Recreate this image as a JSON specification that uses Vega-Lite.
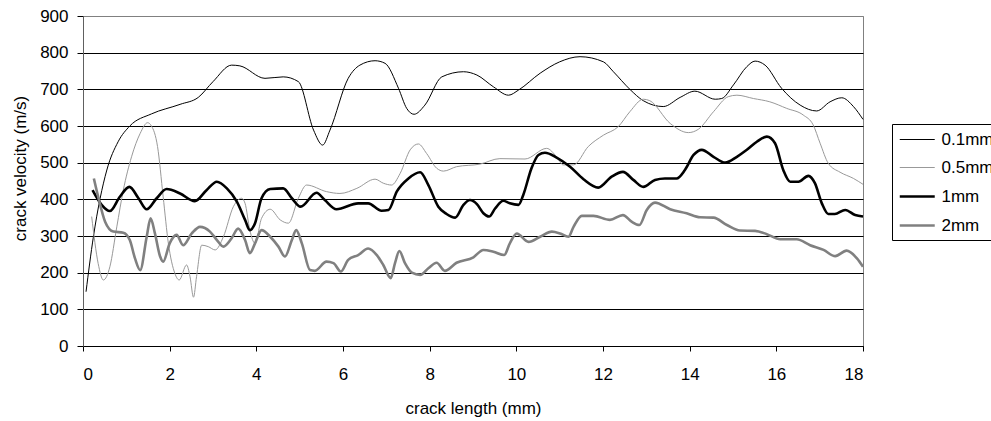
{
  "$schema": "https://vega.github.io/schema/vega-lite/v6.json",
  "width": 780,
  "height": 330,
  "autosize": {"type": "none"},
  "padding": {"left": 83, "top": 16, "right": 128, "bottom": 75},
  "background": "white",
  "config": {
    "font": "Liberation Sans",
    "view": {"stroke": "#808080", "strokeWidth": 1},
    "axis": {"labelFont": "Liberation Sans", "titleFont": "Liberation Sans", "labelColor": "black", "titleColor": "black", "titleFontWeight": "normal"}
  },
  "data": {"values": [
    {"s":"0.1mm","x":0.07,"y":148},{"s":"0.1mm","x":0.24,"y":298},{"s":"0.1mm","x":0.55,"y":480},{"s":"0.1mm","x":0.81,"y":557},{"s":"0.1mm","x":1.08,"y":600},{"s":"0.1mm","x":1.58,"y":633},{"s":"0.1mm","x":2.24,"y":659},{"s":"0.1mm","x":2.66,"y":678},{"s":"0.1mm","x":3.0,"y":721},{"s":"0.1mm","x":3.43,"y":766},{"s":"0.1mm","x":3.62,"y":764},{"s":"0.1mm","x":4.2,"y":730},{"s":"0.1mm","x":4.62,"y":734},{"s":"0.1mm","x":4.97,"y":721},{"s":"0.1mm","x":5.32,"y":589},{"s":"0.1mm","x":5.53,"y":548},{"s":"0.1mm","x":5.7,"y":589},{"s":"0.1mm","x":6.12,"y":730},{"s":"0.1mm","x":6.39,"y":766},{"s":"0.1mm","x":6.74,"y":778},{"s":"0.1mm","x":6.97,"y":771},{"s":"0.1mm","x":7.28,"y":703},{"s":"0.1mm","x":7.47,"y":648},{"s":"0.1mm","x":7.64,"y":632},{"s":"0.1mm","x":7.89,"y":657},{"s":"0.1mm","x":8.28,"y":734},{"s":"0.1mm","x":8.78,"y":748},{"s":"0.1mm","x":9.09,"y":739},{"s":"0.1mm","x":9.47,"y":707},{"s":"0.1mm","x":9.82,"y":684},{"s":"0.1mm","x":10.05,"y":698},{"s":"0.1mm","x":10.55,"y":744},{"s":"0.1mm","x":11.0,"y":775},{"s":"0.1mm","x":11.47,"y":789},{"s":"0.1mm","x":12.01,"y":775},{"s":"0.1mm","x":12.24,"y":748},{"s":"0.1mm","x":12.62,"y":700},{"s":"0.1mm","x":12.93,"y":669},{"s":"0.1mm","x":13.39,"y":653},{"s":"0.1mm","x":13.78,"y":678},{"s":"0.1mm","x":14.12,"y":695},{"s":"0.1mm","x":14.59,"y":673},{"s":"0.1mm","x":14.74,"y":675},{"s":"0.1mm","x":15.01,"y":712},{"s":"0.1mm","x":15.32,"y":762},{"s":"0.1mm","x":15.51,"y":777},{"s":"0.1mm","x":15.74,"y":766},{"s":"0.1mm","x":16.12,"y":703},{"s":"0.1mm","x":16.55,"y":657},{"s":"0.1mm","x":16.93,"y":641},{"s":"0.1mm","x":17.24,"y":666},{"s":"0.1mm","x":17.51,"y":677},{"s":"0.1mm","x":17.78,"y":653},{"s":"0.1mm","x":18.0,"y":618},
    {"s":"0.5mm","x":0.2,"y":353},{"s":"0.5mm","x":0.35,"y":225},{"s":"0.5mm","x":0.47,"y":180},{"s":"0.5mm","x":0.62,"y":216},{"s":"0.5mm","x":0.78,"y":325},{"s":"0.5mm","x":0.93,"y":425},{"s":"0.5mm","x":1.12,"y":516},{"s":"0.5mm","x":1.32,"y":580},{"s":"0.5mm","x":1.49,"y":609},{"s":"0.5mm","x":1.58,"y":600},{"s":"0.5mm","x":1.72,"y":544},{"s":"0.5mm","x":1.85,"y":407},{"s":"0.5mm","x":1.97,"y":280},{"s":"0.5mm","x":2.12,"y":198},{"s":"0.5mm","x":2.22,"y":180},{"s":"0.5mm","x":2.39,"y":221},{"s":"0.5mm","x":2.47,"y":189},{"s":"0.5mm","x":2.55,"y":133},{"s":"0.5mm","x":2.62,"y":189},{"s":"0.5mm","x":2.74,"y":275},{"s":"0.5mm","x":2.89,"y":271},{"s":"0.5mm","x":3.05,"y":262},{"s":"0.5mm","x":3.24,"y":298},{"s":"0.5mm","x":3.47,"y":380},{"s":"0.5mm","x":3.66,"y":403},{"s":"0.5mm","x":3.74,"y":389},{"s":"0.5mm","x":3.85,"y":316},{"s":"0.5mm","x":3.97,"y":280},{"s":"0.5mm","x":4.12,"y":348},{"s":"0.5mm","x":4.32,"y":373},{"s":"0.5mm","x":4.55,"y":344},{"s":"0.5mm","x":4.74,"y":335},{"s":"0.5mm","x":4.97,"y":403},{"s":"0.5mm","x":5.16,"y":439},{"s":"0.5mm","x":5.62,"y":421},{"s":"0.5mm","x":5.93,"y":416},{"s":"0.5mm","x":6.32,"y":430},{"s":"0.5mm","x":6.74,"y":455},{"s":"0.5mm","x":6.93,"y":444},{"s":"0.5mm","x":7.12,"y":439},{"s":"0.5mm","x":7.32,"y":471},{"s":"0.5mm","x":7.55,"y":535},{"s":"0.5mm","x":7.74,"y":551},{"s":"0.5mm","x":7.93,"y":525},{"s":"0.5mm","x":8.16,"y":485},{"s":"0.5mm","x":8.32,"y":477},{"s":"0.5mm","x":8.62,"y":489},{"s":"0.5mm","x":9.16,"y":496},{"s":"0.5mm","x":9.62,"y":511},{"s":"0.5mm","x":10.2,"y":510},{"s":"0.5mm","x":10.7,"y":539},{"s":"0.5mm","x":10.93,"y":516},{"s":"0.5mm","x":11.08,"y":494},{"s":"0.5mm","x":11.32,"y":494},{"s":"0.5mm","x":11.66,"y":544},{"s":"0.5mm","x":12.01,"y":575},{"s":"0.5mm","x":12.35,"y":598},{"s":"0.5mm","x":12.62,"y":639},{"s":"0.5mm","x":12.93,"y":673},{"s":"0.5mm","x":13.08,"y":669},{"s":"0.5mm","x":13.55,"y":607},{"s":"0.5mm","x":13.97,"y":582},{"s":"0.5mm","x":14.2,"y":591},{"s":"0.5mm","x":14.55,"y":639},{"s":"0.5mm","x":14.89,"y":680},{"s":"0.5mm","x":15.09,"y":684},{"s":"0.5mm","x":15.47,"y":675},{"s":"0.5mm","x":15.85,"y":666},{"s":"0.5mm","x":16.24,"y":648},{"s":"0.5mm","x":16.62,"y":630},{"s":"0.5mm","x":16.85,"y":603},{"s":"0.5mm","x":17.01,"y":553},{"s":"0.5mm","x":17.2,"y":498},{"s":"0.5mm","x":17.47,"y":474},{"s":"0.5mm","x":17.78,"y":457},{"s":"0.5mm","x":18.0,"y":441},
    {"s":"1mm","x":0.22,"y":425},{"s":"1mm","x":0.43,"y":385},{"s":"1mm","x":0.62,"y":368},{"s":"1mm","x":0.85,"y":407},{"s":"1mm","x":1.07,"y":434},{"s":"1mm","x":1.28,"y":403},{"s":"1mm","x":1.47,"y":373},{"s":"1mm","x":1.7,"y":403},{"s":"1mm","x":1.93,"y":428},{"s":"1mm","x":2.24,"y":416},{"s":"1mm","x":2.58,"y":395},{"s":"1mm","x":2.85,"y":425},{"s":"1mm","x":3.09,"y":448},{"s":"1mm","x":3.32,"y":430},{"s":"1mm","x":3.55,"y":394},{"s":"1mm","x":3.74,"y":344},{"s":"1mm","x":3.85,"y":316},{"s":"1mm","x":3.97,"y":335},{"s":"1mm","x":4.12,"y":403},{"s":"1mm","x":4.32,"y":428},{"s":"1mm","x":4.62,"y":430},{"s":"1mm","x":4.82,"y":403},{"s":"1mm","x":5.02,"y":380},{"s":"1mm","x":5.39,"y":418},{"s":"1mm","x":5.58,"y":398},{"s":"1mm","x":5.85,"y":373},{"s":"1mm","x":6.35,"y":389},{"s":"1mm","x":6.58,"y":389},{"s":"1mm","x":6.89,"y":369},{"s":"1mm","x":7.05,"y":371},{"s":"1mm","x":7.24,"y":421},{"s":"1mm","x":7.51,"y":457},{"s":"1mm","x":7.78,"y":474},{"s":"1mm","x":7.97,"y":439},{"s":"1mm","x":8.2,"y":380},{"s":"1mm","x":8.39,"y":360},{"s":"1mm","x":8.59,"y":350},{"s":"1mm","x":8.78,"y":385},{"s":"1mm","x":8.93,"y":398},{"s":"1mm","x":9.09,"y":387},{"s":"1mm","x":9.24,"y":362},{"s":"1mm","x":9.37,"y":353},{"s":"1mm","x":9.51,"y":375},{"s":"1mm","x":9.7,"y":396},{"s":"1mm","x":9.85,"y":389},{"s":"1mm","x":10.05,"y":385},{"s":"1mm","x":10.16,"y":412},{"s":"1mm","x":10.35,"y":485},{"s":"1mm","x":10.51,"y":521},{"s":"1mm","x":10.66,"y":527},{"s":"1mm","x":10.93,"y":514},{"s":"1mm","x":11.24,"y":489},{"s":"1mm","x":11.55,"y":455},{"s":"1mm","x":11.89,"y":432},{"s":"1mm","x":12.2,"y":462},{"s":"1mm","x":12.46,"y":475},{"s":"1mm","x":12.7,"y":453},{"s":"1mm","x":12.93,"y":434},{"s":"1mm","x":13.2,"y":453},{"s":"1mm","x":13.43,"y":457},{"s":"1mm","x":13.7,"y":457},{"s":"1mm","x":13.89,"y":480},{"s":"1mm","x":14.09,"y":521},{"s":"1mm","x":14.28,"y":535},{"s":"1mm","x":14.55,"y":516},{"s":"1mm","x":14.82,"y":500},{"s":"1mm","x":15.09,"y":516},{"s":"1mm","x":15.32,"y":535},{"s":"1mm","x":15.55,"y":557},{"s":"1mm","x":15.78,"y":571},{"s":"1mm","x":15.97,"y":553},{"s":"1mm","x":16.16,"y":480},{"s":"1mm","x":16.32,"y":448},{"s":"1mm","x":16.51,"y":448},{"s":"1mm","x":16.74,"y":464},{"s":"1mm","x":16.89,"y":444},{"s":"1mm","x":17.05,"y":389},{"s":"1mm","x":17.2,"y":360},{"s":"1mm","x":17.35,"y":360},{"s":"1mm","x":17.59,"y":371},{"s":"1mm","x":17.82,"y":357},{"s":"1mm","x":18.0,"y":353},
    {"s":"2mm","x":0.25,"y":457},{"s":"2mm","x":0.35,"y":407},{"s":"2mm","x":0.51,"y":339},{"s":"2mm","x":0.7,"y":312},{"s":"2mm","x":0.93,"y":309},{"s":"2mm","x":1.08,"y":289},{"s":"2mm","x":1.2,"y":239},{"s":"2mm","x":1.32,"y":207},{"s":"2mm","x":1.47,"y":298},{"s":"2mm","x":1.56,"y":348},{"s":"2mm","x":1.66,"y":307},{"s":"2mm","x":1.78,"y":244},{"s":"2mm","x":1.85,"y":230},{"s":"2mm","x":2.0,"y":280},{"s":"2mm","x":2.16,"y":303},{"s":"2mm","x":2.31,"y":275},{"s":"2mm","x":2.51,"y":307},{"s":"2mm","x":2.7,"y":325},{"s":"2mm","x":2.93,"y":312},{"s":"2mm","x":3.09,"y":289},{"s":"2mm","x":3.24,"y":271},{"s":"2mm","x":3.43,"y":294},{"s":"2mm","x":3.58,"y":320},{"s":"2mm","x":3.74,"y":289},{"s":"2mm","x":3.85,"y":253},{"s":"2mm","x":3.97,"y":280},{"s":"2mm","x":4.12,"y":316},{"s":"2mm","x":4.32,"y":298},{"s":"2mm","x":4.51,"y":271},{"s":"2mm","x":4.66,"y":244},{"s":"2mm","x":4.82,"y":289},{"s":"2mm","x":4.92,"y":316},{"s":"2mm","x":5.05,"y":280},{"s":"2mm","x":5.24,"y":207},{"s":"2mm","x":5.35,"y":205},{"s":"2mm","x":5.62,"y":230},{"s":"2mm","x":5.78,"y":226},{"s":"2mm","x":5.95,"y":203},{"s":"2mm","x":6.12,"y":235},{"s":"2mm","x":6.35,"y":248},{"s":"2mm","x":6.58,"y":266},{"s":"2mm","x":6.78,"y":248},{"s":"2mm","x":6.93,"y":221},{"s":"2mm","x":7.1,"y":185},{"s":"2mm","x":7.2,"y":226},{"s":"2mm","x":7.3,"y":259},{"s":"2mm","x":7.43,"y":226},{"s":"2mm","x":7.59,"y":200},{"s":"2mm","x":7.78,"y":194},{"s":"2mm","x":7.97,"y":212},{"s":"2mm","x":8.16,"y":227},{"s":"2mm","x":8.35,"y":205},{"s":"2mm","x":8.62,"y":227},{"s":"2mm","x":9.01,"y":242},{"s":"2mm","x":9.24,"y":262},{"s":"2mm","x":9.47,"y":257},{"s":"2mm","x":9.72,"y":248},{"s":"2mm","x":9.85,"y":280},{"s":"2mm","x":10.01,"y":307},{"s":"2mm","x":10.28,"y":284},{"s":"2mm","x":10.55,"y":298},{"s":"2mm","x":10.82,"y":312},{"s":"2mm","x":11.01,"y":307},{"s":"2mm","x":11.2,"y":298},{"s":"2mm","x":11.32,"y":325},{"s":"2mm","x":11.51,"y":355},{"s":"2mm","x":11.78,"y":355},{"s":"2mm","x":12.16,"y":344},{"s":"2mm","x":12.46,"y":357},{"s":"2mm","x":12.66,"y":339},{"s":"2mm","x":12.84,"y":330},{"s":"2mm","x":13.01,"y":371},{"s":"2mm","x":13.2,"y":391},{"s":"2mm","x":13.55,"y":373},{"s":"2mm","x":13.93,"y":362},{"s":"2mm","x":14.24,"y":351},{"s":"2mm","x":14.55,"y":350},{"s":"2mm","x":14.86,"y":330},{"s":"2mm","x":15.16,"y":315},{"s":"2mm","x":15.51,"y":314},{"s":"2mm","x":15.78,"y":305},{"s":"2mm","x":16.09,"y":291},{"s":"2mm","x":16.47,"y":291},{"s":"2mm","x":16.78,"y":275},{"s":"2mm","x":17.09,"y":262},{"s":"2mm","x":17.36,"y":245},{"s":"2mm","x":17.62,"y":260},{"s":"2mm","x":17.86,"y":239},{"s":"2mm","x":18.0,"y":216}
  ]},
  "mark": {"type": "line", "interpolate": "monotone"},
  "encoding": {
    "x": {
      "field": "x", "type": "quantitative",
      "scale": {"domain": [0, 18], "nice": false, "zero": false},
      "axis": {
        "title": "crack length (mm)", "values": [0,2,4,6,8,10,12,14,16,18],
        "grid": false, "labelFontSize": 17, "titleFontSize": 17,
        "domainColor": "black", "tickColor": "black", "tickSize": 5,
        "labelPadding": 15, "titleBaseline": "middle", "titleY": 62
      }
    },
    "y": {
      "field": "y", "type": "quantitative",
      "scale": {"domain": [0, 900], "nice": false},
      "axis": {
        "title": "crack velocity (m/s)", "values": [0,100,200,300,400,500,600,700,800,900],
        "grid": true, "gridColor": {"condition": {"test": "datum.value == 900", "value": "#808080"}, "value": "black"},
        "gridOpacity": 1, "gridWidth": 1,
        "labelFontSize": 17, "titleFontSize": 17,
        "domainColor": "#606060", "tickColor": "black", "tickSize": 6, "labelPadding": 9,
        "titleAngle": -90, "titleAlign": "center", "titleBaseline": "middle", "titleX": -63, "titleY": 152
      }
    },
    "color": {
      "field": "s", "type": "ordinal",
      "scale": {"type": "ordinal", "domain": ["0.1mm","0.5mm","1mm","2mm"], "range": ["#000000","#999999","#000000","#808080"]},
      "legend": {
        "title": null, "orient": "none", "legendX": 809, "legendY": 108,
        "strokeColor": "black", "fillColor": "white", "padding": 6,
        "labelFontSize": 17, "labelFont": "Liberation Sans", "labelColor": "black",
        "symbolType": "M-1,0H3", "symbolSize": 306, "rowPadding": 10, "labelOffset": 22.5
      }
    },
    "strokeWidth": {
      "field": "s", "type": "ordinal",
      "scale": {"type": "ordinal", "domain": ["0.1mm","0.5mm","1mm","2mm"], "range": [1, 1, 2.6, 2.6]}
    }
  }
}
